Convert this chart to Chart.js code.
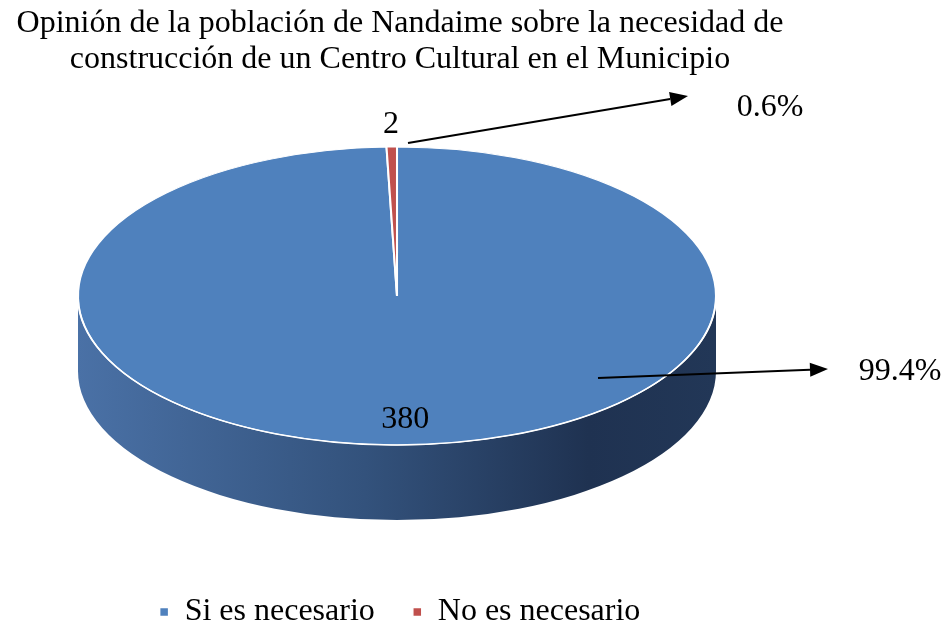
<!DOCTYPE html>
<html>
<head>
<meta charset="utf-8">
<script src="https://cdn.jsdelivr.net/npm/chart.js@4"></script>
<style>
  html, body { margin: 0; padding: 0; background: #fff; }
</style>
</head>
<body>
<canvas id="pieChart" width="946" height="628"></canvas>
<script>
const categories = ['Si es necesario', 'No es necesario'];
const counts = [380, 2];
const percentLabels = ['99.4%', '0.6%'];
const sliceColors = ['#4f81bd', '#c0504d'];

// forma del pastel 3D (elipse de arriba + grosor)
const pie3d = { cx: 397, cy: 296, rx: 319, ry: 149, depth: 75 };

// flechas y porcentajes, puestos a mano como en el original
const callouts = [
  { from: [598, 378], to: [828, 369], text: [900, 372] },
  { from: [408, 143], to: [688, 96], text: [770, 108] }
];

const serif = "'Liberation Serif', 'Times New Roman', serif";

function drawArrow(ctx, from, to) {
  const ang = Math.atan2(to[1] - from[1], to[0] - from[0]);
  const len = 18, half = 7;
  const bx = to[0] - Math.cos(ang) * len;
  const by = to[1] - Math.sin(ang) * len;
  ctx.beginPath();
  ctx.moveTo(from[0], from[1]);
  ctx.lineTo(bx, by);
  ctx.lineWidth = 2;
  ctx.strokeStyle = '#000';
  ctx.stroke();
  ctx.beginPath();
  ctx.moveTo(to[0], to[1]);
  ctx.lineTo(bx - Math.sin(ang) * half, by + Math.cos(ang) * half);
  ctx.lineTo(bx + Math.sin(ang) * half, by - Math.cos(ang) * half);
  ctx.closePath();
  ctx.fillStyle = '#000';
  ctx.fill();
}

const pie3dPlugin = {
  id: 'pie3d',
  beforeDatasetsDraw(chart) {
    const ctx = chart.ctx;
    const arc = chart.getDatasetMeta(0).data[0];
    const { cx, cy, rx, ry, depth } = pie3d;

    // lateral del cilindro
    const grad = ctx.createLinearGradient(cx - rx, 0, cx + rx, 0);
    grad.addColorStop(0, '#4a71a6');
    grad.addColorStop(0.45, '#33527c');
    grad.addColorStop(0.8, '#1f3251');
    grad.addColorStop(1, '#223757');
    ctx.save();
    ctx.beginPath();
    ctx.moveTo(cx - rx, cy);
    ctx.lineTo(cx - rx, cy + depth);
    ctx.ellipse(cx, cy + depth, rx, ry, 0, Math.PI, 0, true);
    ctx.lineTo(cx + rx, cy);
    ctx.ellipse(cx, cy, rx, ry, 0, 0, Math.PI, false);
    ctx.closePath();
    ctx.fillStyle = grad;
    ctx.fill();
    ctx.restore();

    // aplastar el pastel en una elipse
    ctx.save();
    ctx.translate(cx, cy);
    ctx.scale(rx / arc.outerRadius, ry / arc.outerRadius);
    ctx.translate(-arc.x, -arc.y);
  },
  afterDatasetsDraw(chart) {
    const ctx = chart.ctx;
    ctx.restore();
    const { cx, cy, rx, ry } = pie3d;

    // borde blanco del frente
    ctx.save();
    ctx.beginPath();
    ctx.ellipse(cx, cy, rx, ry, 0, 0.02, Math.PI - 0.02, false);
    ctx.strokeStyle = '#fff';
    ctx.lineWidth = 1.5;
    ctx.stroke();

    // valores
    ctx.fillStyle = '#000';
    ctx.font = '32px ' + serif;
    ctx.textAlign = 'center';
    ctx.textBaseline = 'middle';
    chart.getDatasetMeta(0).data.forEach((a, i) => {
      const mid = (a.startAngle + a.endAngle) / 2;
      const f = i === 0 ? 0.83 : 1.15;
      const dx = i === 0 ? 4 : 0;
      ctx.fillText(String(counts[i]), cx + Math.cos(mid) * rx * f + dx, cy + Math.sin(mid) * ry * f);
    });

    // flechas con porcentajes
    callouts.forEach((c, i) => {
      drawArrow(ctx, c.from, c.to);
      ctx.fillStyle = '#000';
      ctx.fillText(percentLabels[i], c.text[0], c.text[1]);
    });
    ctx.restore();
  }
};

new Chart(document.getElementById('pieChart'), {
  type: 'pie',
  data: {
    labels: categories,
    datasets: [{
      data: counts,
      backgroundColor: sliceColors,
      borderColor: '#fff',
      borderWidth: 1.5,
      clip: false
    }]
  },
  options: {
    responsive: false,
    animation: false,
    layout: { padding: { top: 0, right: 146, bottom: -10, left: 0 } },
    plugins: {
      title: {
        display: true,
        text: ['Opinión de la población de Nandaime sobre la necesidad de',
               'construcción de un Centro Cultural en el Municipio'],
        color: '#000',
        font: { family: serif, size: 32, weight: 'normal', lineHeight: 1.12 },
        padding: { top: 6, bottom: 10 }
      },
      legend: {
        position: 'bottom',
        labels: {
          color: '#000',
          font: { family: serif, size: 32 },
          boxWidth: 9,
          boxHeight: 9,
          padding: 38
        }
      },
      tooltip: { enabled: false }
    }
  },
  plugins: [pie3dPlugin]
});
</script>
</body>
</html>
